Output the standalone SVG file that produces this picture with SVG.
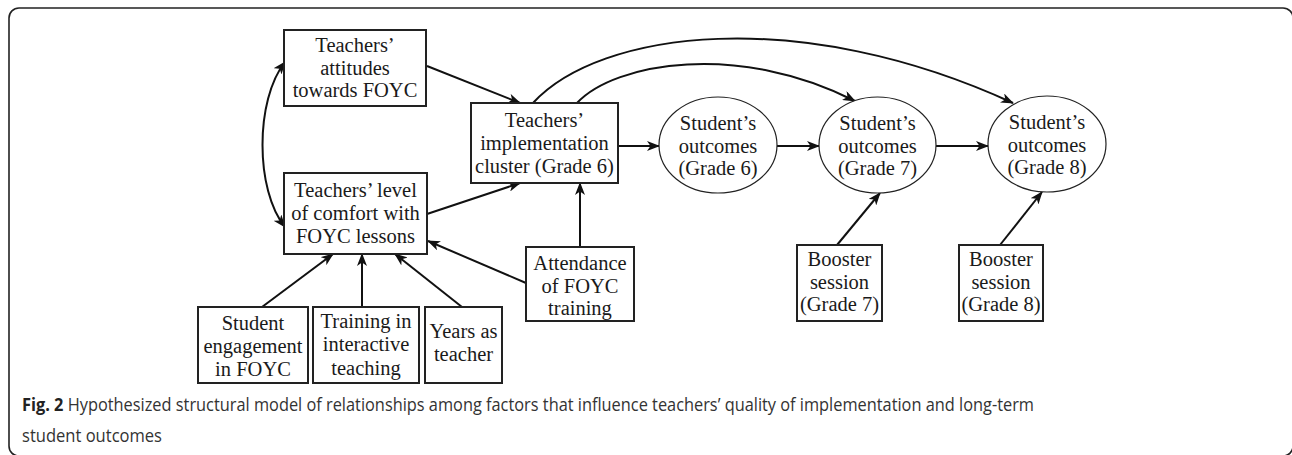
<svg xmlns="http://www.w3.org/2000/svg" width="1292" height="455" viewBox="0 0 1292 455">
<style>
.bg{fill:#fff}
.frame{fill:none;stroke:#222;stroke-width:1.6}
.box{fill:#fff;stroke:#222;stroke-width:2}
.ell{fill:#fff;stroke:#222;stroke-width:1.2}
.t{font-family:"Liberation Serif","Times New Roman",serif;font-size:20.5px;fill:#1a1a1a;text-anchor:middle}
.c{fill:none;stroke:#111;stroke-width:2}
.cap{font-family:"Open Sans","Noto Sans",sans-serif;font-size:18px;fill:#333}
.capb{font-weight:bold;fill:#222}
</style>
<defs>
<marker id="ah" markerUnits="userSpaceOnUse" markerWidth="13" markerHeight="10" viewBox="0 0 13 10" refX="12" refY="5" orient="auto-start-reverse">
<path d="M0,0 L13,5 L0,10 L3.5,5 Z" fill="#111"/>
</marker>
</defs>
<rect class="bg" x="0" y="0" width="1292" height="455"/>
<rect class="frame" x="9" y="8" width="1284" height="448" rx="10"/>

<g id="connectors">
<path class="c" d="M285,62 C255,100 255,190 285,227" marker-start="url(#ah)" marker-end="url(#ah)"/>
<line class="c" x1="427" y1="66" x2="520" y2="103" marker-end="url(#ah)"/>
<line class="c" x1="427" y1="214" x2="520" y2="183" marker-end="url(#ah)"/>
<line class="c" x1="580" y1="247" x2="580" y2="183" marker-end="url(#ah)"/>
<line class="c" x1="618" y1="146" x2="659" y2="146" marker-end="url(#ah)"/>
<line class="c" x1="777" y1="146" x2="819" y2="146" marker-end="url(#ah)"/>
<line class="c" x1="936" y1="146" x2="988" y2="146" marker-end="url(#ah)"/>
<path class="c" d="M577,103 C615,62 740,42 855,101" marker-end="url(#ah)"/>
<path class="c" d="M533,103 C600,30 800,5 1013,103" marker-end="url(#ah)"/>
<line class="c" x1="837" y1="245" x2="880" y2="193" marker-end="url(#ah)"/>
<line class="c" x1="1000" y1="245" x2="1042" y2="192" marker-end="url(#ah)"/>
<line class="c" x1="262" y1="307" x2="333" y2="254" marker-end="url(#ah)"/>
<line class="c" x1="362" y1="307" x2="362" y2="254" marker-end="url(#ah)"/>
<line class="c" x1="462" y1="307" x2="395" y2="254" marker-end="url(#ah)"/>
<line class="c" x1="526" y1="283" x2="428" y2="241" marker-end="url(#ah)"/>
</g>

<g id="attitudes">
<rect class="box" x="284" y="30" width="142" height="76"/>
<text class="t" x="355" y="52">Teachers’</text>
<text class="t" x="355" y="74.5">attitudes</text>
<text class="t" x="355" y="97">towards FOYC</text>
</g>
<g id="implementation">
<rect class="box" x="471" y="103" width="147" height="80"/>
<text class="t" x="544.5" y="127">Teachers’</text>
<text class="t" x="544.5" y="150">implementation</text>
<text class="t" x="544.5" y="173">cluster (Grade 6)</text>
</g>
<g id="comfort">
<rect class="box" x="284" y="173" width="143" height="81"/>
<text class="t" x="355.5" y="197">Teachers’ level</text>
<text class="t" x="355.5" y="220">of comfort with</text>
<text class="t" x="355.5" y="243">FOYC lessons</text>
</g>
<g id="engagement">
<rect class="box" x="198" y="307" width="110" height="76"/>
<text class="t" x="253" y="330">Student</text>
<text class="t" x="253" y="353">engagement</text>
<text class="t" x="253" y="376">in FOYC</text>
</g>
<g id="training">
<rect class="box" x="313" y="307" width="106" height="76"/>
<text class="t" x="366" y="328">Training in</text>
<text class="t" x="366" y="351">interactive</text>
<text class="t" x="366" y="375">teaching</text>
</g>
<g id="years">
<rect class="box" x="425" y="307" width="77" height="76"/>
<text class="t" x="463.5" y="338">Years as</text>
<text class="t" x="463.5" y="361">teacher</text>
</g>
<g id="attendance">
<rect class="box" x="526" y="247" width="108" height="74"/>
<text class="t" x="580" y="270">Attendance</text>
<text class="t" x="580" y="293">of FOYC</text>
<text class="t" x="580" y="315">training</text>
</g>
<g id="outcomes6">
<ellipse class="ell" cx="718" cy="145" rx="59" ry="48"/>
<text class="t" x="718" y="130">Student’s</text>
<text class="t" x="718" y="152.5">outcomes</text>
<text class="t" x="718" y="175">(Grade 6)</text>
</g>
<g id="outcomes7">
<ellipse class="ell" cx="877.5" cy="145" rx="58.5" ry="48"/>
<text class="t" x="877.5" y="130">Student’s</text>
<text class="t" x="877.5" y="152.5">outcomes</text>
<text class="t" x="877.5" y="175">(Grade 7)</text>
</g>
<g id="outcomes8">
<ellipse class="ell" cx="1047" cy="144" rx="59" ry="48"/>
<text class="t" x="1047" y="129">Student’s</text>
<text class="t" x="1047" y="151.5">outcomes</text>
<text class="t" x="1047" y="174">(Grade 8)</text>
</g>
<g id="booster7">
<rect class="box" x="797" y="245" width="85" height="76"/>
<text class="t" x="839.5" y="266">Booster</text>
<text class="t" x="839.5" y="289">session</text>
<text class="t" x="839.5" y="311">(Grade 7)</text>
</g>
<g id="booster8">
<rect class="box" x="959" y="245" width="84" height="76"/>
<text class="t" x="1001" y="266">Booster</text>
<text class="t" x="1001" y="289">session</text>
<text class="t" x="1001" y="311">(Grade 8)</text>
</g>

<g id="caption">
<text class="cap" x="22" y="411" textLength="1012" lengthAdjust="spacingAndGlyphs"><tspan class="capb">Fig. 2</tspan> Hypothesized structural model of relationships among factors that influence teachers’ quality of implementation and long-term</text>
<text class="cap" x="22" y="442" textLength="140" lengthAdjust="spacingAndGlyphs">student outcomes</text>
</g>
</svg>
